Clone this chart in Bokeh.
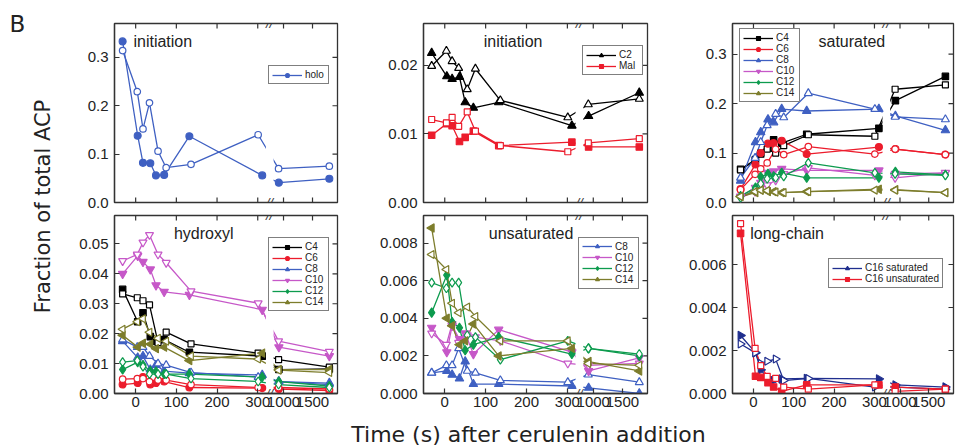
import math
from bokeh.plotting import figure
from bokeh.models import (Range1d, FixedTicker, CustomJSTickFormatter,
                          NumeralTickFormatter, Label, Legend, LegendItem)
from bokeh.layouts import row, column
from bokeh.embed import file_html
from bokeh.resources import INLINE

# ---------------- data ----------------
t_filled = [-32, 5, 18, 36, 50, 70, 132, 311, 920, 1790]
t_open = [-32, 4, 18, 34, 55, 75, 136, 301, 915, 1790]
x_tick_values = [0, 100, 200, 300, 1000, 1500]

holo_f = [0.333, 0.138, 0.082, 0.081, 0.056, 0.057, 0.137, 0.056, 0.041, 0.049]
holo_o = [0.314, 0.229, 0.152, 0.206, 0.106, 0.072, 0.079, 0.140, 0.070, 0.075]

c2_f = [0.0218, 0.0184, 0.0180, 0.0183, 0.0146, 0.0138, 0.0146, 0.0112, 0.0126, 0.0160]
c2_o = [0.0199, 0.0221, 0.0206, 0.0196, 0.0165, 0.0195, 0.0149, 0.0124, 0.0143, 0.0151]
mal_f = [0.0098, 0.0115, 0.0112, 0.0089, 0.0095, 0.0104, 0.0083, 0.0088, 0.0081, 0.0081]
mal_o = [0.0121, 0.0116, 0.0124, 0.0111, 0.0132, 0.0104, 0.0083, 0.0074, 0.0087, 0.0093]

sat_c4_f = [0.067, 0.087, 0.098, 0.110, 0.127, 0.120, 0.138, 0.150, 0.206, 0.255]
sat_c4_o = [0.066, 0.085, 0.100, 0.108, 0.100, 0.115, 0.137, 0.134, 0.229, 0.238]
sat_c6_f = [0.027, 0.077, 0.100, 0.119, 0.120, 0.125, 0.098, 0.112, 0.108, 0.097]
sat_c6_o = [0.026, 0.057, 0.068, 0.080, 0.108, 0.097, 0.113, 0.098, 0.108, 0.097]
sat_c8_f = [0.044, 0.122, 0.142, 0.168, 0.162, 0.189, 0.185, 0.189, 0.175, 0.146]
sat_c8_o = [0.050, 0.090, 0.122, 0.156, 0.179, 0.172, 0.221, 0.189, 0.173, 0.168]
sat_c10_f = [0.012, 0.030, 0.040, 0.060, 0.063, 0.068, 0.065, 0.065, 0.058, 0.060]
sat_c10_o = [0.010, 0.022, 0.030, 0.035, 0.045, 0.058, 0.070, 0.055, 0.050, 0.060]
sat_c12_f = [0.013, 0.030, 0.052, 0.058, 0.053, 0.060, 0.050, 0.050, 0.062, 0.056]
sat_c12_o = [0.010, 0.025, 0.038, 0.048, 0.050, 0.053, 0.080, 0.060, 0.058, 0.055]
sat_c14_f = [0.012, 0.020, 0.025, 0.022, 0.022, 0.020, 0.022, 0.027, 0.026, 0.020]
sat_c14_o = [0.012, 0.022, 0.025, 0.024, 0.021, 0.020, 0.022, 0.025, 0.025, 0.020]

hyd_c4_f = [0.0348, 0.0240, 0.0270, 0.0190, 0.0175, 0.0180, 0.0138, 0.0125, 0.0080, 0.0082]
hyd_c4_o = [0.0333, 0.0320, 0.0310, 0.0296, 0.0170, 0.0205, 0.0166, 0.0135, 0.0113, 0.0088]
hyd_c6_f = [0.0030, 0.0035, 0.0055, 0.0030, 0.0035, 0.0040, 0.0020, 0.0018, 0.0015, 0.0010]
hyd_c6_o = [0.0048, 0.0050, 0.0050, 0.0040, 0.0045, 0.0045, 0.0030, 0.0020, 0.0020, 0.0015]
hyd_c8_f = [0.0175, 0.0120, 0.0125, 0.0080, 0.0095, 0.0075, 0.0068, 0.0062, 0.0040, 0.0035]
hyd_c8_o = [0.0180, 0.0155, 0.0155, 0.0125, 0.0100, 0.0095, 0.0070, 0.0055, 0.0040, 0.0030]
hyd_c10_f = [0.0400, 0.0460, 0.0440, 0.0415, 0.0362, 0.0340, 0.0330, 0.0280, 0.0155, 0.0125]
hyd_c10_o = [0.0443, 0.0465, 0.0505, 0.0530, 0.0465, 0.0437, 0.0342, 0.0302, 0.0175, 0.0140]
hyd_c12_f = [0.0080, 0.0105, 0.0095, 0.0075, 0.0073, 0.0065, 0.0065, 0.0055, 0.0040, 0.0025]
hyd_c12_o = [0.0105, 0.0110, 0.0090, 0.0065, 0.0065, 0.0065, 0.0050, 0.0040, 0.0030, 0.0020]
hyd_c14_f = [0.0195, 0.0155, 0.0168, 0.0165, 0.0150, 0.0155, 0.0110, 0.0135, 0.0080, 0.0080]
hyd_c14_o = [0.0215, 0.0240, 0.0250, 0.0205, 0.0185, 0.0175, 0.0125, 0.0115, 0.0078, 0.0070]

uns_c8_f = [0.0011, 0.0012, 0.0010, 0.0008, 0.0017, 0.0005, 0.0005, 0.0004, 0.0003, 0.0000]
uns_c8_o = [0.0011, 0.0015, 0.0015, 0.0024, 0.0012, 0.0011, 0.0007, 0.0006, 0.0010, 0.0006]
uns_c10_f = [0.0035, 0.0022, 0.0036, 0.0029, 0.0032, 0.0021, 0.0034, 0.0022, 0.0012, 0.0019]
uns_c10_o = [0.0032, 0.0026, 0.0037, 0.0027, 0.0031, 0.0030, 0.0028, 0.0016, 0.0015, 0.0016]
uns_c12_f = [0.0043, 0.0063, 0.0038, 0.0035, 0.0023, 0.0026, 0.0030, 0.0021, 0.0024, 0.0020]
uns_c12_o = [0.0059, 0.0056, 0.0059, 0.0059, 0.0031, 0.0030, 0.0018, 0.0028, 0.0024, 0.0021]
uns_c14_f = [0.0088, 0.0040, 0.0036, 0.0026, 0.0028, 0.0037, 0.0020, 0.0024, 0.0017, 0.0012]
uns_c14_o = [0.0074, 0.0066, 0.0048, 0.0043, 0.0046, 0.0041, 0.0028, 0.0028, 0.0016, 0.0015]

lc_sat_f = [0.0027, 0.0019, 0.0011, 0.0007, 0.0006, 0.00068, 0.0007, 0.00068, 0.0004, 0.0003]
lc_sat_o = [0.0023, 0.0019, 0.0014, 0.0015, 0.0016, 0.0006, 0.0007, 0.0003, 0.0003, 0.0002]
lc_uns_f = [0.00745, 0.0008, 0.00075, 0.0005, 0.0003, 0.0001, 0.0004, 0.0004, 0.0003, 0.0002]
lc_uns_o = [0.0079, 0.0021, 0.0013, 0.0008, 0.0007, 0.0003, 0.0002, 0.0004, 0.0001, 0.0002]

# ---------------- style ----------------
BLUE = "#3f60c2"
BLACK = "#000000"
RED = "#ec1c2c"
VIOLET = "#c658c8"
GREEN = "#0d9b4e"
OLIVE = "#7d7d2c"
NAVY = "#1f2e8e"
AX = "#333333"
TICK_FONT = "Liberation Sans"
TITLE_FONT = "DejaVu Sans"
TICK_LEN = 5  # px
LEG_ITEM_H = 11.2
LEG_PAD = 3

MARKERS = {
    "sq": ("square", 0.0, 6.5),
    "ci": ("circle", 0.0, 7),
    "tu": ("triangle", 0.0, 8.5),
    "td": ("inverted_triangle", 0.0, 8.5),
    "di": ("diamond", 0.0, 9.5),
    "tl": ("triangle", math.pi / 2, 8.5),
    "tr": ("triangle", -math.pi / 2, 8.5),
}

# broken x axis geometry (plot units)
X_MIN, X_MAX = -52, 496
BRK_P = 329
BRK_R = 759
RATIO = 0.1425


def bx(ts):
    return [t if t <= BRK_P else BRK_P + (t - BRK_R) * RATIO for t in ts]


COLS = [(50, 223, 10), (76, 224, 10), (75, 221, 2)]
ROWS = [(23, 179, 7), (6, 178, 29)]

# legend placement: (left offset, top offset) from the frame's top-left, px
panels = [
    dict(title="initiation", tpos=(0.085, 0.90, "left"), ymax=0.37, yticks=[0, 0.1, 0.2, 0.3], fmt="0.0",
         series=[("holo", BLUE, "ci", holo_f, holo_o)], leg=(154, 44)),
    dict(title="initiation", tpos=(0.40, 0.90, "center"), ymax=0.0261, yticks=[0, 0.01, 0.02], fmt="0.00",
         series=[("C2", BLACK, "tu", c2_f, c2_o), ("Mal", RED, "sq", mal_f, mal_o)], leg=(159, 24)),
    dict(title="saturated", tpos=(0.54, 0.90, "center"), ymax=0.362, yticks=[0, 0.1, 0.2, 0.3], fmt="0.0",
         series=[("C4", BLACK, "sq", sat_c4_f, sat_c4_o), ("C6", RED, "ci", sat_c6_f, sat_c6_o),
                 ("C8", BLUE, "tu", sat_c8_f, sat_c8_o), ("C10", VIOLET, "td", sat_c10_f, sat_c10_o),
                 ("C12", GREEN, "di", sat_c12_f, sat_c12_o), ("C14", OLIVE, "tl", sat_c14_f, sat_c14_o)],
         leg=(7, 6)),
    dict(title="hydroxyl", tpos=(0.40, 0.90, "center"), ymax=0.0595, yticks=[0, 0.01, 0.02, 0.03, 0.04, 0.05],
         fmt="0.00",
         series=[("C4", BLACK, "sq", hyd_c4_f, hyd_c4_o), ("C6", RED, "ci", hyd_c6_f, hyd_c6_o),
                 ("C8", BLUE, "tu", hyd_c8_f, hyd_c8_o), ("C10", VIOLET, "td", hyd_c10_f, hyd_c10_o),
                 ("C12", GREEN, "di", hyd_c12_f, hyd_c12_o), ("C14", OLIVE, "tl", hyd_c14_f, hyd_c14_o)],
         leg=(154, 23)),
    dict(title="unsaturated", tpos=(0.48, 0.90, "center"), ymax=0.00947,
         yticks=[0, 0.002, 0.004, 0.006, 0.008], fmt="0.000",
         series=[("C8", BLUE, "tu", uns_c8_f, uns_c8_o), ("C10", VIOLET, "td", uns_c10_f, uns_c10_o),
                 ("C12", GREEN, "di", uns_c12_f, uns_c12_o), ("C14", OLIVE, "tl", uns_c14_f, uns_c14_o)],
         leg=(155, 23)),
    dict(title="long-chain", tpos=(0.08, 0.90, "left"), ymax=0.00828, yticks=[0, 0.002, 0.004, 0.006],
         fmt="0.000",
         series=[("C16 saturated", NAVY, "tr", lc_sat_f, lc_sat_o),
                 ("C16 unsaturated", RED, "sq", lc_uns_f, lc_uns_o)],
         leg=(96, 45)),
]


def style_axis(ax, standoff):
    ax.axis_line_color = AX
    ax.axis_line_width = 1.3
    ax.major_tick_line_color = AX
    ax.major_tick_line_width = 1.2
    ax.major_tick_in = TICK_LEN
    ax.major_tick_out = 0
    ax.minor_tick_line_color = None
    ax.major_label_text_font = TICK_FONT
    ax.major_label_text_color = "#222222"
    ax.major_label_text_font_size = "15px"
    ax.major_label_standoff = standoff


def make_panel(cfg, ci, ri):
    lb, fw, rb = COLS[ci]
    tb, fh, bb = ROWS[ri]
    ymax = cfg["ymax"]
    kw = {} if ri == 1 else dict(x_axis_location=None)
    p = figure(frame_width=fw, frame_height=fh, min_border_left=lb, min_border_right=rb,
               min_border_top=tb, min_border_bottom=bb,
               x_range=Range1d(X_MIN, X_MAX), y_range=Range1d(0, ymax),
               toolbar_location=None, output_backend="svg", **kw)
    p.outline_line_color = AX
    p.outline_line_width = 1.3
    p.grid.visible = False
    p.background_fill_color = "white"
    p.border_fill_color = "white"

    xticks = bx(x_tick_values)
    yticks = cfg["yticks"]
    left = p.left[0]
    left.ticker = FixedTicker(ticks=yticks, minor_ticks=[])
    left.formatter = NumeralTickFormatter(format=cfg["fmt"])
    style_axis(left, 6)
    if ri == 1:
        below = p.below[0]
        below.ticker = FixedTicker(ticks=xticks, minor_ticks=[])
        below.formatter = CustomJSTickFormatter(
            args=dict(bp=BRK_P, br=BRK_R, r=RATIO),
            code="var v = tick <= bp ? tick : br + (tick - bp) / r; "
                 "return (Math.round(v / 10) * 10).toFixed(0);")
        style_axis(below, 3)

    # mirror (and unlabeled) tick marks drawn inward
    dy = TICK_LEN / fh * ymax
    dx = TICK_LEN / fw * (X_MAX - X_MIN)
    n = len(xticks)
    p.segment(x0=xticks, y0=[ymax] * n, x1=xticks, y1=[ymax - dy] * n, line_color=AX, line_width=1.2)
    if ri == 0:
        p.segment(x0=xticks, y0=[0] * n, x1=xticks, y1=[dy] * n, line_color=AX, line_width=1.2)
    m = len(yticks)
    p.segment(x0=[X_MAX] * m, y0=yticks, x1=[X_MAX - dx] * m, y1=yticks, line_color=AX, line_width=1.2)

    xf = bx(t_filled)
    xo = bx(t_open)
    line_r = {}
    for name, col, mk, vf, vo in cfg["series"]:
        lf = p.line(xf, vf, line_color=col, line_width=1.3)
        p.line(xo, vo, line_color=col, line_width=1.3)
        line_r[name] = lf

    # gap of the axis break
    pad = 1.5 / fh * ymax
    p.quad(left=[BRK_P - 9], right=[BRK_P + 10], bottom=[pad], top=[ymax - pad],
           fill_color="white", line_color=None)

    items = []
    for name, col, mk, vf, vo in cfg["series"]:
        mm, ang, sz = MARKERS[mk]
        sf = p.scatter(xf, vf, marker=mm, angle=ang, size=sz, fill_color=col, line_color=col, line_width=1.1)
        p.scatter(xo, vo, marker=mm, angle=ang, size=sz - 0.5, fill_color="white", line_color=col,
                  line_width=1.2)
        items.append(LegendItem(label=name, renderers=[line_r[name], sf]))

    lx, ltop = cfg["leg"]
    leg_h = len(items) * LEG_ITEM_H + 2 * LEG_PAD
    leg = Legend(items=items, location=(lx, fh - ltop - leg_h), border_line_color="black",
                 border_line_width=1.5, background_fill_color="white", background_fill_alpha=1.0,
                 label_text_font=TICK_FONT, label_text_font_size="10px", label_text_color="#222222",
                 glyph_width=30, glyph_height=10, label_height=10, label_standoff=3,
                 spacing=0, padding=LEG_PAD, margin=0)
    p.add_layout(leg)

    # break marks
    for yy in (0, ymax):
        p.add_layout(Label(x=BRK_P, y=yy, text="//", text_align="center", text_baseline="middle",
                           text_font=TICK_FONT, text_font_size="13px", text_font_style="italic",
                           text_color=AX))

    fx, fy, al = cfg["tpos"]
    p.add_layout(Label(x=X_MIN + fx * (X_MAX - X_MIN), y=fy * ymax, text=cfg["title"],
                       text_align=al, text_baseline="middle", text_font=TICK_FONT,
                       text_font_size="16px", text_color="#222222"))
    return p


figs = [make_panel(cfg, i % 3, i // 3) for i, cfg in enumerate(panels)]

TOP_H = ROWS[0][0] + ROWS[0][1] + ROWS[0][2] + ROWS[1][0] + ROWS[1][1] + ROWS[1][2]
ylab = figure(width=64, height=TOP_H, x_range=Range1d(0, 64), y_range=Range1d(0, TOP_H),
              x_axis_type=None, y_axis_type=None, min_border=0, toolbar_location=None,
              output_backend="svg")
ylab.outline_line_color = None
ylab.grid.visible = False
ylab.add_layout(Label(x=42, y=TOP_H - 206, text="Fraction of total ACP", angle=math.pi / 2,
                      text_align="center", text_baseline="middle", text_font=TITLE_FONT,
                      text_font_size="21px", text_color="#222222"))
ylab.add_layout(Label(x=9, y=TOP_H - 10, text="B", text_align="left", text_baseline="top",
                      text_font=TITLE_FONT, text_font_size="23px", text_color="#222222"))

XL_H = 446 - TOP_H
xlab = figure(width=955, height=XL_H, x_range=Range1d(0, 955), y_range=Range1d(0, XL_H),
              x_axis_type=None, y_axis_type=None, min_border=0, toolbar_location=None,
              output_backend="svg")
xlab.outline_line_color = None
xlab.grid.visible = False
xlab.add_layout(Label(x=528, y=XL_H / 2, text="Time (s) after cerulenin addition", text_align="center",
                      text_baseline="middle", text_font=TITLE_FONT, text_font_size="22px",
                      text_color="#222222"))

grid = column(row(figs[0], figs[1], figs[2]), row(figs[3], figs[4], figs[5]))
layout = column(row(ylab, grid), xlab)

open("out.html", "w").write(file_html(layout, INLINE))
